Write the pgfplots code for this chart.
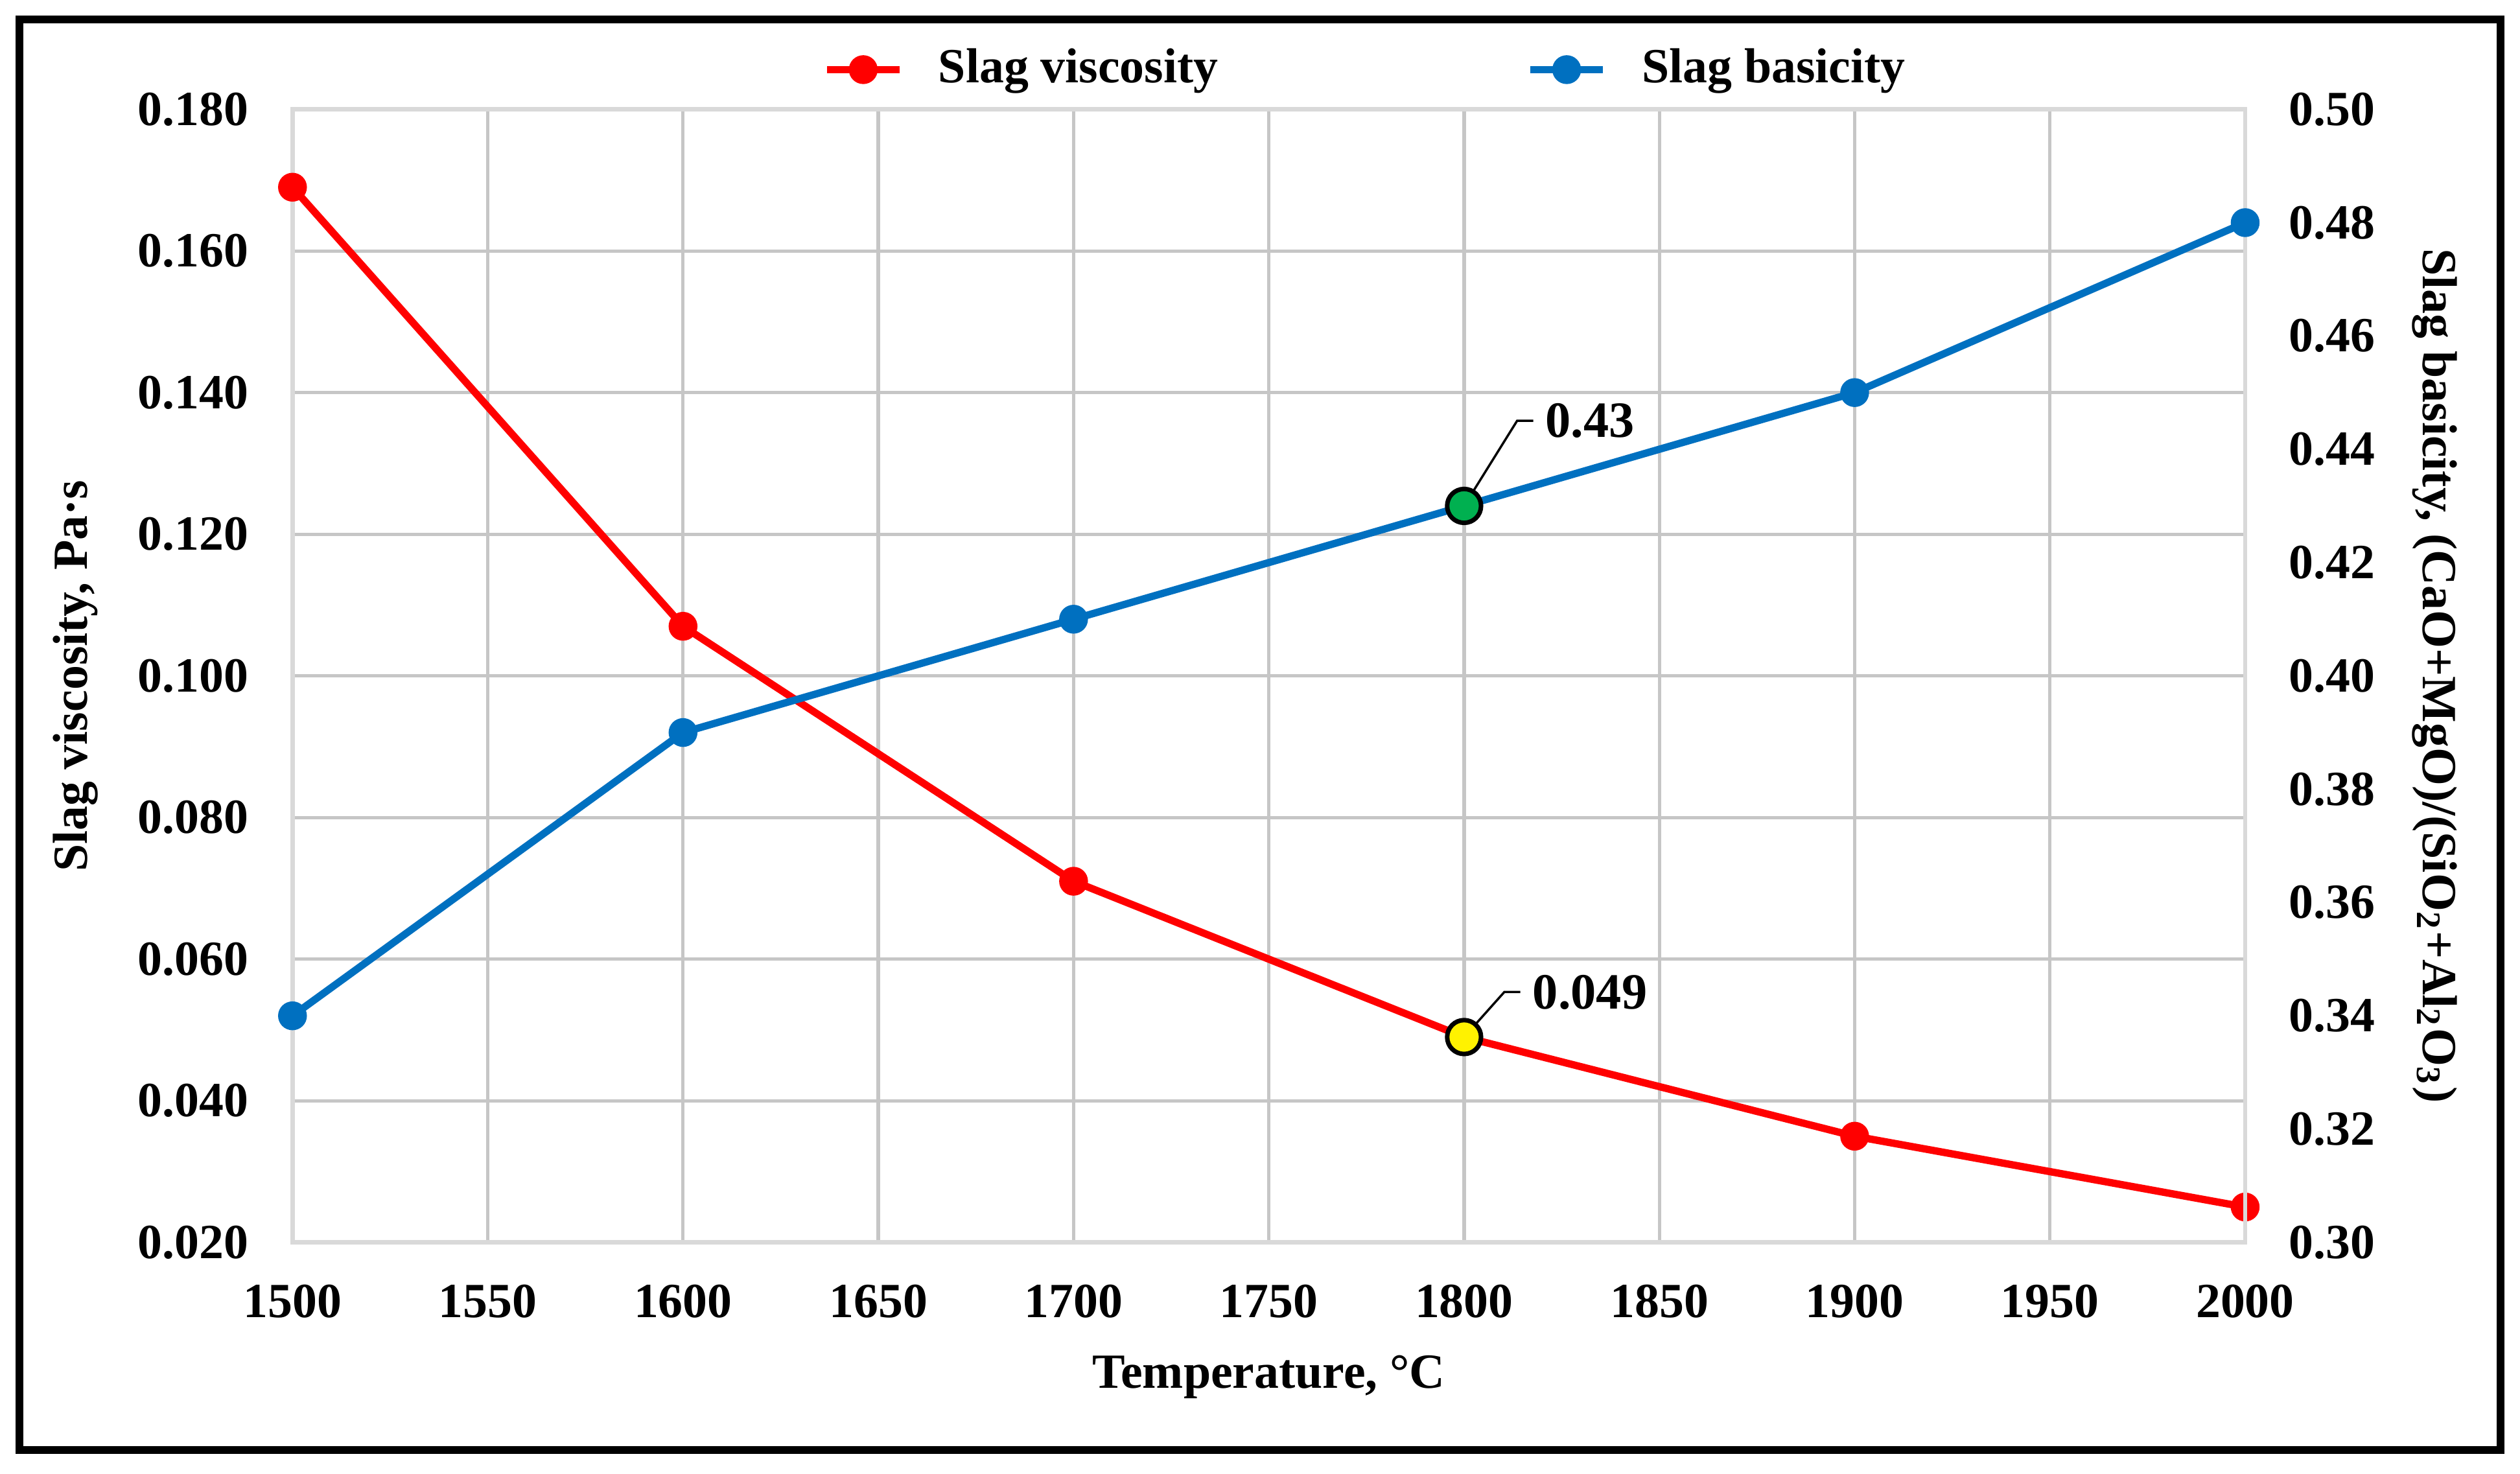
\documentclass[border=0pt]{standalone}
\usepackage{fontspec}
\setmainfont{Liberation Serif}
\usepackage{pgfplots}
\pgfplotsset{compat=1.18}

\definecolor{vred}{HTML}{FF0000}
\definecolor{bblue}{HTML}{0070C0}
\definecolor{mgreen}{HTML}{00B050}
\definecolor{gridgray}{HTML}{C6C6C6}

\newcommand{\lbl}{\fontsize{8.7}{10}\selectfont\bfseries}

\pgfplotsset{
  slag/.style={
    scale only axis,
    width=121.5mm, height=70.5mm,
    xmin=1500, xmax=2000,
    xtick={1500,1550,1600,1650,1700,1750,1800,1850,1900,1950,2000},
    /pgf/number format/assume math mode=true,
    /pgf/number format/set thousands separator={},
    tick style={draw=none},
    ticklabel style={font=\lbl},
    label style={font=\lbl},
    axis line style={draw=gray!30, line width=0.8pt},
    clip=false,
  }
}

\begin{document}
\begin{tikzpicture}
\path[use as bounding box] (-18.2mm,-14.4mm) rectangle (138.6mm,77.3mm);
\draw[black, line width=1.4pt] (-17.0mm,-12.9mm) rectangle (137.4mm,76.1mm);

% left axis: viscosity
\begin{axis}[slag,
    ymin=0.02, ymax=0.18,
    ytick={0.02,0.04,0.06,0.08,0.10,0.12,0.14,0.16,0.18},
    yticklabel style={/pgf/number format/.cd, fixed, fixed zerofill, precision=3,
      /tikz/.cd, xshift=-1.5mm},
    xticklabel style={yshift=-1.4mm},
    grid=major, grid style={gridgray, line width=0.6pt},
    xlabel={Temperature, °C},
    xlabel style={at={(axis description cs:0.5,-0.119)}, anchor=center},
    ylabel={Slag viscosity, Pa·s},
    ylabel style={at={(axis description cs:-0.111,0.5)}, anchor=center},
    legend columns=2,
    legend style={at={(0.558,1.035)}, anchor=center, draw=none, fill=none,
      font=\lbl, nodes={inner xsep=2.2mm},
      /tikz/every even column/.append style={column sep=17mm}},
    legend image code/.code={
      \draw[mark repeat=2, mark phase=2] plot coordinates {(0mm,0mm) (2.25mm,0mm) (4.5mm,0mm)};},
]
\addplot[vred, line width=1.3pt, mark=*, mark size=1.9pt,
    mark options={solid, fill=vred, draw=vred}]
  coordinates {(1500,0.169) (1600,0.107) (1700,0.071) (1800,0.049) (1900,0.035) (2000,0.025)};
\addlegendentry{Slag viscosity}
\addlegendimage{bblue, line width=1.3pt, mark=*, mark size=1.9pt,
    mark options={solid, fill=bblue, draw=bblue}}
\addlegendentry{Slag basicity}

\addplot[only marks, mark=*, mark size=3pt,
    mark options={fill=yellow, draw=black, line width=0.8pt}, forget plot]
  coordinates {(1800,0.049)};
\draw[black, line width=0.4pt] (axis cs:1800,0.049) -- ++(2.5mm,2.8mm) -- ++(1.0mm,0mm)
  node[right, inner sep=0.7mm, font=\fontsize{9}{10}\selectfont\bfseries] {0.049};
\end{axis}

% right axis: basicity
\begin{axis}[slag,
    axis x line=none, axis y line*=right,
    ymin=0.30, ymax=0.50,
    ytick={0.30,0.32,0.34,0.36,0.38,0.40,0.42,0.44,0.46,0.48,0.50},
    yticklabel style={/pgf/number format/.cd, fixed, fixed zerofill, precision=2,
      /tikz/.cd, xshift=1.5mm},
    ylabel={Slag basicity, (CaO+MgO)/(SiO\textsubscript{2}+Al\textsubscript{2}O\textsubscript{3})},
    ylabel style={at={(axis description cs:1.097,0.5)}, anchor=center, rotate=180},
]
\addplot[bblue, line width=1.3pt, mark=*, mark size=1.9pt,
    mark options={solid, fill=bblue, draw=bblue}]
  coordinates {(1500,0.34) (1600,0.39) (1700,0.41) (1800,0.43) (1900,0.45) (2000,0.48)};
\addplot[only marks, mark=*, mark size=3pt,
    mark options={fill=mgreen, draw=black, line width=0.8pt}]
  coordinates {(1800,0.43)};
\draw[black, line width=0.4pt] (axis cs:1800,0.43) -- ++(3.3mm,5.3mm) -- ++(1.0mm,0mm)
  node[right, inner sep=0.7mm, font=\fontsize{9}{10}\selectfont\bfseries] {0.43};
\end{axis}
\end{tikzpicture}
\end{document}
